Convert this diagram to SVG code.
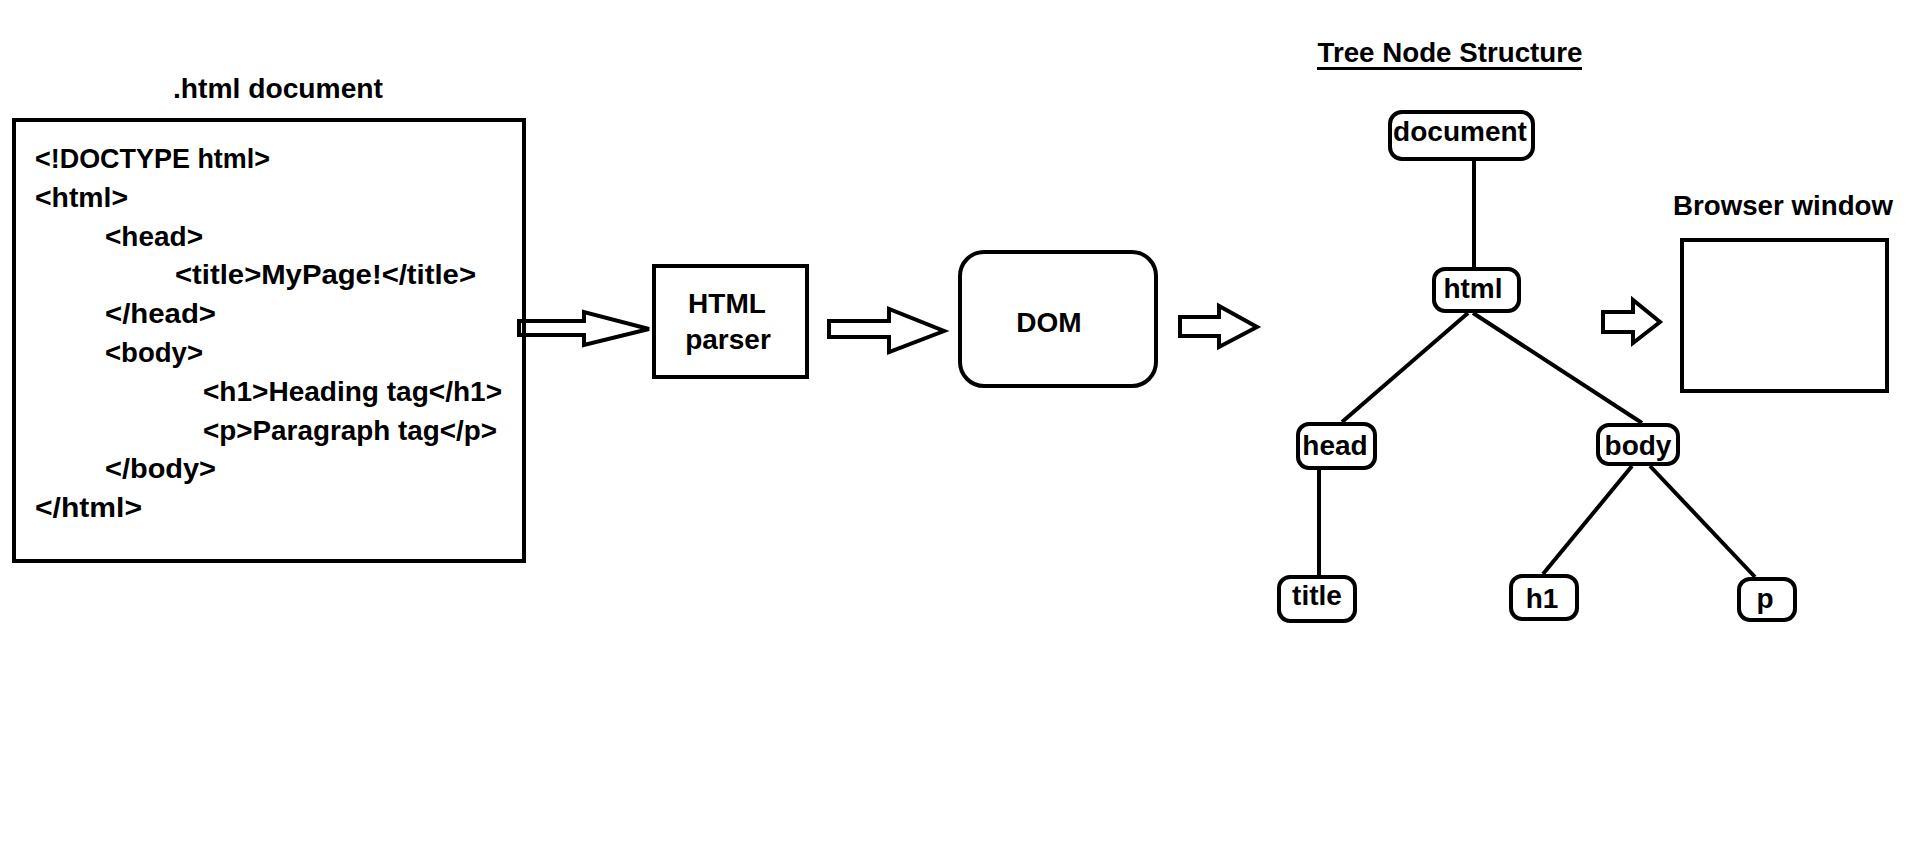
<svg xmlns="http://www.w3.org/2000/svg" width="1914" height="867" viewBox="0 0 1914 867">
<style>
text{font-family:"Liberation Sans",Arial,sans-serif;font-weight:bold;font-size:28px;fill:#000}
.c{text-anchor:middle}
.box{fill:none;stroke:#000;stroke-width:4}
.node{fill:#fff;stroke:#000;stroke-width:4}
.edge{stroke:#000;stroke-width:4;fill:none}
.arrow{fill:none;stroke:#000;stroke-width:4;stroke-linejoin:miter}
</style>
<rect width="1914" height="867" fill="#fff"/>
<g id="html-document">
<text class="c" x="278" y="98" textLength="210" lengthAdjust="spacingAndGlyphs">.html document</text>
<rect class="box" x="14" y="120" width="510" height="441"/>
<text x="35" y="168" textLength="235" lengthAdjust="spacingAndGlyphs">&lt;!DOCTYPE html&gt;</text>
<text x="35" y="207" textLength="93" lengthAdjust="spacingAndGlyphs">&lt;html&gt;</text>
<text x="105" y="246" textLength="98" lengthAdjust="spacingAndGlyphs">&lt;head&gt;</text>
<text x="175" y="284" textLength="301" lengthAdjust="spacingAndGlyphs">&lt;title&gt;MyPage!&lt;/title&gt;</text>
<text x="105" y="323" textLength="111" lengthAdjust="spacingAndGlyphs">&lt;/head&gt;</text>
<text x="105" y="362" textLength="98" lengthAdjust="spacingAndGlyphs">&lt;body&gt;</text>
<text x="203" y="401" textLength="299" lengthAdjust="spacingAndGlyphs">&lt;h1&gt;Heading tag&lt;/h1&gt;</text>
<text x="203" y="440" textLength="294" lengthAdjust="spacingAndGlyphs">&lt;p&gt;Paragraph tag&lt;/p&gt;</text>
<text x="105" y="478" textLength="111" lengthAdjust="spacingAndGlyphs">&lt;/body&gt;</text>
<text x="35" y="517" textLength="107" lengthAdjust="spacingAndGlyphs">&lt;/html&gt;</text>
</g>
<g id="html-parser">
<rect class="box" x="654" y="266" width="153" height="111"/>
<text class="c" x="727" y="313">HTML</text>
<text class="c" x="728" y="349">parser</text>
</g>
<g id="dom">
<rect class="box" x="960" y="252" width="196" height="134" rx="24"/>
<text class="c" x="1049" y="332">DOM</text>
</g>
<g id="tree-title">
<text class="c" x="1450" y="62" textLength="265" lengthAdjust="spacingAndGlyphs">Tree Node Structure</text>
<rect x="1317" y="67" width="265" height="3" fill="#000"/>
</g>
<g id="browser-window">
<text class="c" x="1783" y="215" textLength="220" lengthAdjust="spacingAndGlyphs">Browser window</text>
<rect class="box" x="1682" y="240" width="205" height="151"/>
</g>
<g id="connectors">
<polygon class="arrow" points="519,321 584,321 584,312 649,329 584,345 584,335 519,335"/>
<polygon class="arrow" points="829,321 889,321 889,309 944,331 889,352 889,337 829,337"/>
<polygon class="arrow" points="1180,317 1219,317 1219,306 1257,327 1219,347 1219,336 1180,336"/>
<polygon class="arrow" points="1603,312 1633,312 1633,300 1660,322 1633,343 1633,332 1603,332"/>
<line class="edge" x1="1474" y1="161" x2="1474" y2="267"/>
<line class="edge" x1="1468" y1="313" x2="1342" y2="422"/>
<line class="edge" x1="1473" y1="313" x2="1642" y2="423"/>
<line class="edge" x1="1319" y1="470" x2="1319" y2="575"/>
<line class="edge" x1="1632" y1="466" x2="1543" y2="574"/>
<line class="edge" x1="1650" y1="466" x2="1755" y2="577"/>
</g>
<g id="node-document">
<rect class="node" x="1390" y="112" width="143" height="47" rx="12"/>
<text class="c" x="1460" y="141">document</text>
</g>
<g id="node-html">
<rect class="node" x="1434" y="269" width="85" height="42" rx="11"/>
<text class="c" x="1473" y="298">html</text>
</g>
<g id="node-head">
<rect class="node" x="1298" y="424" width="77" height="44" rx="11"/>
<text class="c" x="1335" y="455">head</text>
</g>
<g id="node-body">
<rect class="node" x="1598" y="425" width="80" height="39" rx="11"/>
<text class="c" x="1638" y="455">body</text>
</g>
<g id="node-title">
<rect class="node" x="1279" y="577" width="76" height="44" rx="11"/>
<text class="c" x="1317" y="605">title</text>
</g>
<g id="node-h1">
<rect class="node" x="1511" y="576" width="66" height="43" rx="11"/>
<text class="c" x="1542" y="608">h1</text>
</g>
<g id="node-p">
<rect class="node" x="1739" y="579" width="56" height="41" rx="11"/>
<text class="c" x="1765" y="608">p</text>
</g>
</svg>
